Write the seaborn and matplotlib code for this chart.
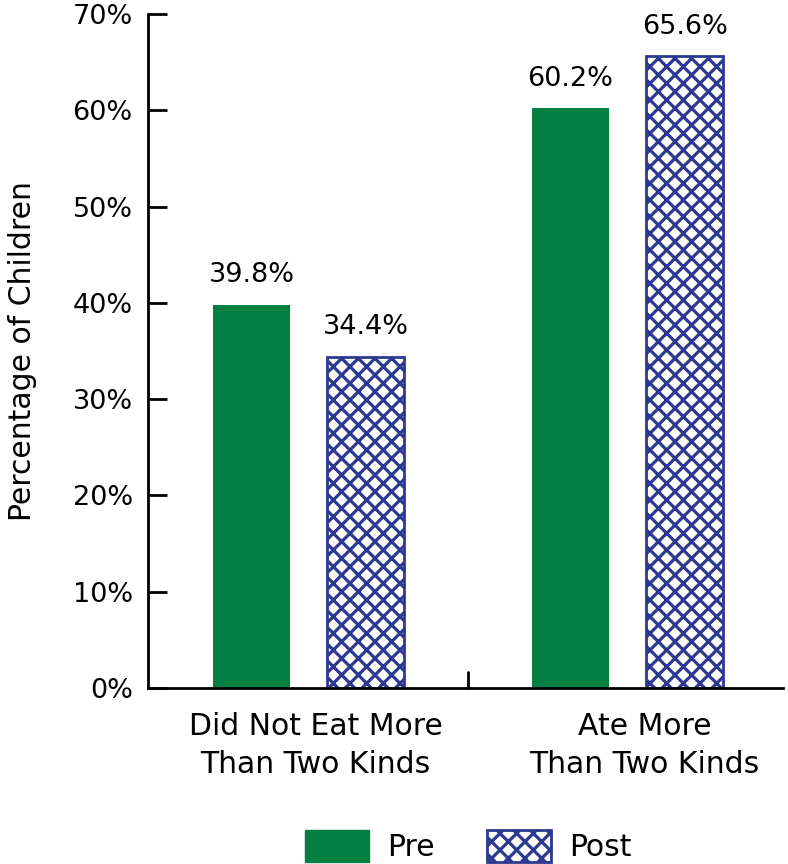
import matplotlib
matplotlib.use("Agg")
import matplotlib.pyplot as plt
import matplotlib.transforms as mtransforms
import seaborn as sns
import pandas as pd
from matplotlib.patches import Patch

categories = ["Did Not Eat More\nThan Two Kinds", "Ate More\nThan Two Kinds"]
groups = ["Pre", "Post"]
pre_values = [39.8, 60.2]
post_values = [34.4, 65.6]
yticks = [0, 10, 20, 30, 40, 50, 60, 70]

GREEN = "#047F43"
NAVY = "#2B3990"
FS = 19.5
FS_L = 21.5

df = pd.DataFrame({
    "cat": categories * 2,
    "grp": ["Pre"] * 2 + ["Post"] * 2,
    "val": pre_values + post_values,
})

sns.set_style("white")
plt.rcParams["font.family"] = ["DejaVu Sans"]
plt.rcParams["text.color"] = "black"
plt.rcParams["axes.labelcolor"] = "black"
plt.rcParams["xtick.color"] = "black"
plt.rcParams["ytick.color"] = "black"
plt.rcParams["hatch.linewidth"] = 2.3
plt.rcParams["hatch.color"] = NAVY

fig = plt.figure(figsize=(7.88, 8.64), dpi=100)
ax = fig.add_axes([0.1878, 0.2037, 0.806, 0.7801])

sns.barplot(data=df, x="cat", y="val", hue="grp", order=categories,
            hue_order=groups, palette={"Pre": GREEN, "Post": "white"},
            width=0.716, gap=0.327, ax=ax, legend=False, saturation=1)

for bar, g in zip(ax.patches, ["Pre", "Pre", "Post", "Post"]):
    if g == "Post":
        bar.set_facecolor("white")
        bar.set_edgecolor(NAVY)
        bar.set_hatch("xx")
        bar.set_linewidth(2)
    else:
        bar.set_edgecolor(GREEN)
        bar.set_linewidth(0)

for bar in ax.patches:
    h = bar.get_height()
    ax.annotate(f"{h:.1f}%", (bar.get_x() + bar.get_width() / 2, h),
                xytext=(0, 12), textcoords="offset points",
                ha="center", va="bottom", fontsize=FS, color="black")

ax.set_xlim(-0.503, 1.487)
ax.set_ylim(0, 70)
ax.set_yticks(yticks)
ax.set_yticklabels([f"{t}%" for t in yticks], fontsize=FS)
ax.set_xticks([0, 1])
ax.set_xticklabels(categories, fontsize=FS_L, linespacing=1.4)
ax.set_xlabel("")
ax.set_ylabel("Percentage of Children", fontsize=FS_L)
ax.yaxis.set_label_coords(-0.175, 0.5)

for s in ["top", "right"]:
    ax.spines[s].set_visible(False)
for s in ["left", "bottom"]:
    ax.spines[s].set_color("black")
    ax.spines[s].set_linewidth(2)

ax.tick_params(axis="y", direction="in", length=14, width=2, left=True, pad=11)
ax.tick_params(axis="x", length=0, pad=17)
ax.plot([0.5, 0.5], [0, 1.7], color="black", lw=2, clip_on=False)

for lab, dx in zip(ax.get_xticklabels(), [7, 17]):
    lab.set_transform(lab.get_transform() +
                      mtransforms.ScaledTranslation(dx / 100, 0, fig.dpi_scale_trans))

handles = [Patch(facecolor=GREEN, edgecolor=GREEN, label="Pre"),
           Patch(facecolor="white", edgecolor=NAVY, hatch="xx", linewidth=2, label="Post")]
fig.legend(handles=handles, loc="lower center", bbox_to_anchor=(0.594, 0.002),
           ncol=2, frameon=False, fontsize=FS_L, handlelength=2.15, handleheight=1.25,
           columnspacing=1.75, handletextpad=0.6, borderpad=0, borderaxespad=0)

fig.savefig("out.png", dpi=100)
